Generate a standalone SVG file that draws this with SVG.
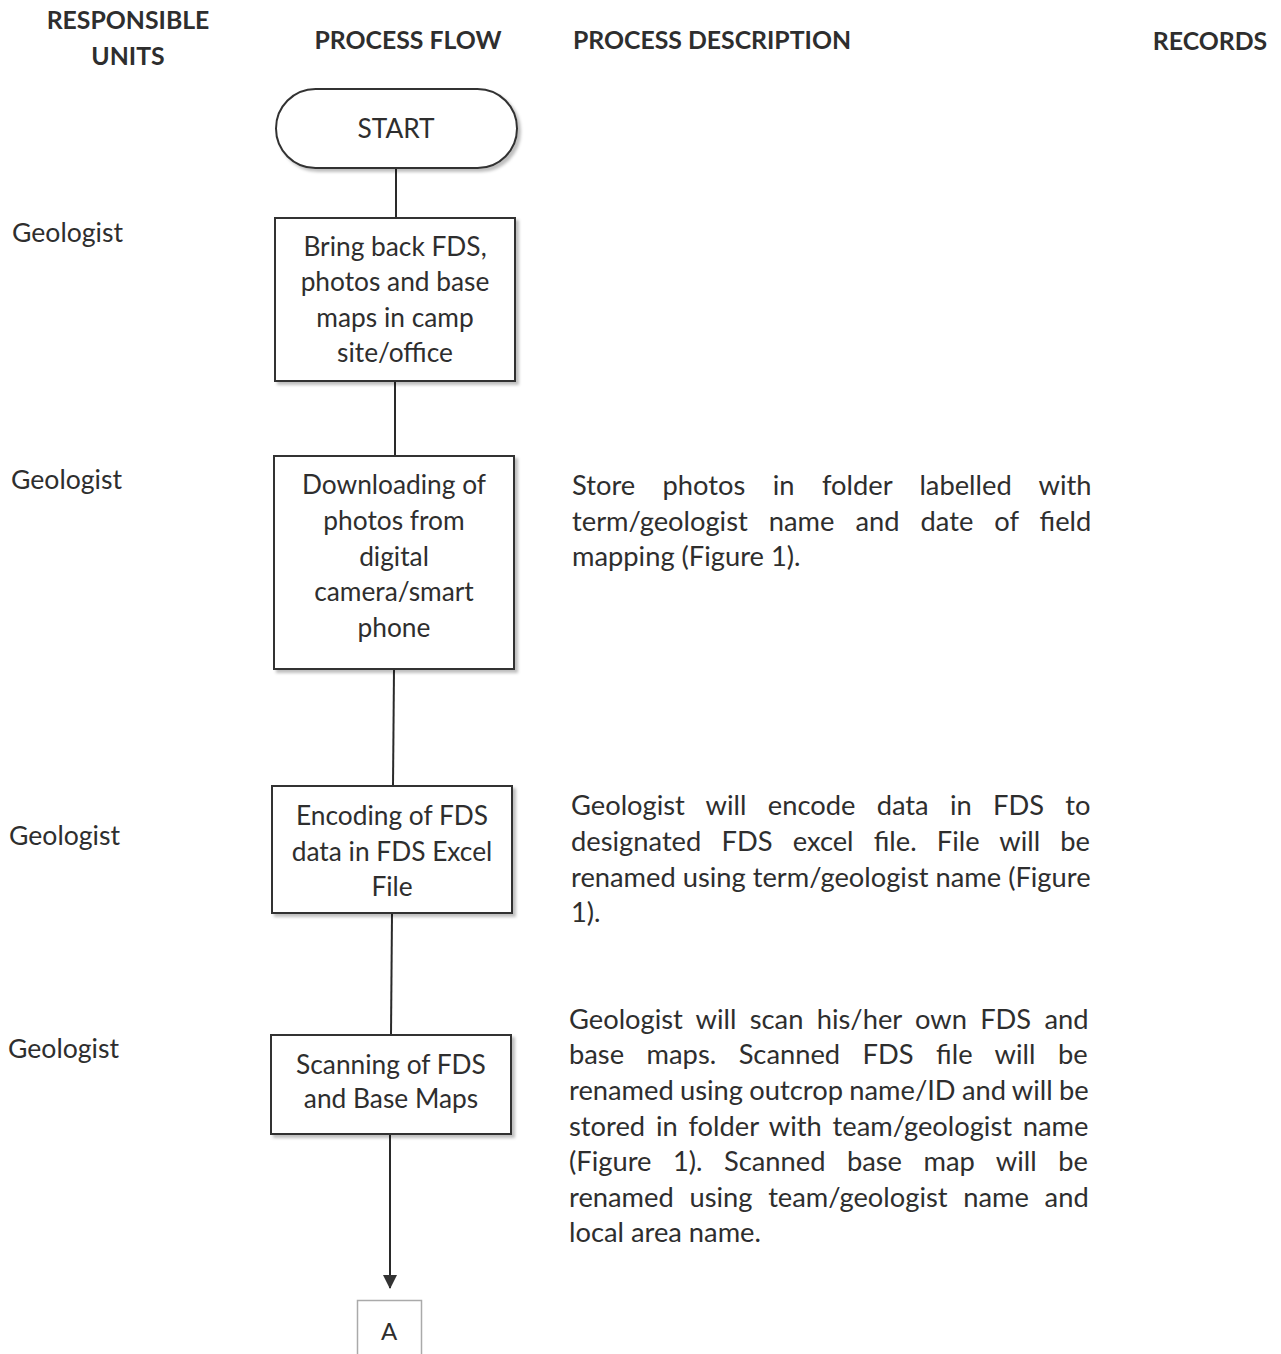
<svg xmlns="http://www.w3.org/2000/svg" width="1281" height="1354" viewBox="0 0 1281 1354">
<defs>
<style>
text{font-family:Lato,"Liberation Sans",sans-serif;fill:#2e2e2e}
.h{font-weight:bold;font-size:24.8px;text-anchor:middle}
.u{font-size:26.6px}
.n{font-size:26.3px;text-anchor:middle}
.d{font-size:27.3px}
.box{fill:#fff;stroke:#333;stroke-width:2;filter:url(#sh)}
.ln{stroke:#2a2a2a;stroke-width:2;fill:none}
</style>
<filter id="sh" x="-10%" y="-10%" width="125%" height="125%">
<feDropShadow dx="3" dy="3" stdDeviation="1.5" flood-color="#000" flood-opacity="0.25"/>
</filter>
<marker id="arw" viewBox="0 0 14 14" refX="13" refY="7" markerWidth="14" markerHeight="14" markerUnits="userSpaceOnUse" orient="auto">
<path d="M0,0 L14,7 L0,14 z" fill="#333"/>
</marker>
</defs>
<rect width="1281" height="1354" fill="#fff"/>

<g id="headers">
<text class="h" x="128" y="29">RESPONSIBLE</text>
<text class="h" x="128" y="65">UNITS</text>
<text class="h" x="408" y="49">PROCESS FLOW</text>
<text class="h" x="712" y="49">PROCESS DESCRIPTION</text>
<text class="h" x="1210" y="50">RECORDS</text>
</g>

<g id="units">
<text class="u" x="12" y="242">Geologist</text>
<text class="u" x="11" y="489">Geologist</text>
<text class="u" x="9" y="845">Geologist</text>
<text class="u" x="8" y="1058">Geologist</text>
</g>

<g id="connectors">
<line class="ln" x1="396" y1="168" x2="396" y2="218"/>
<line class="ln" x1="395" y1="381" x2="395" y2="456"/>
<line class="ln" x1="394" y1="669" x2="393" y2="786"/>
<line class="ln" x1="392" y1="913" x2="391" y2="1035"/>
<line class="ln" x1="390" y1="1134" x2="390" y2="1288" marker-end="url(#arw)"/>
</g>

<g id="start">
<rect class="box" x="276" y="89" width="241" height="79" rx="39.5"/>
<text class="n" x="396" y="138">START</text>
</g>

<g id="bring-back">
<rect class="box" x="275" y="218" width="240" height="163"/>
<text class="n" x="395" y="256">Bring back FDS,</text>
<text class="n" x="395" y="291">photos and base</text>
<text class="n" x="395" y="327">maps in camp</text>
<text class="n" x="395" y="362">site/office</text>
</g>

<g id="downloading">
<rect class="box" x="274" y="456" width="240" height="213"/>
<text class="n" x="394" y="494">Downloading of</text>
<text class="n" x="394" y="530">photos from</text>
<text class="n" x="394" y="566">digital</text>
<text class="n" x="394" y="601">camera/smart</text>
<text class="n" x="394" y="637">phone</text>
</g>

<g id="encoding">
<rect class="box" x="272" y="786" width="240" height="127"/>
<text class="n" x="392" y="825">Encoding of FDS</text>
<text class="n" x="392" y="861">data in FDS Excel</text>
<text class="n" x="392" y="896">File</text>
</g>

<g id="scanning">
<rect class="box" x="271" y="1035" width="240" height="99"/>
<text class="n" x="391" y="1074">Scanning of FDS</text>
<text class="n" x="391" y="1108">and Base Maps</text>
</g>

<g id="connector-a">
<rect x="357.5" y="1300.5" width="64" height="60" fill="#fff" stroke="#aaa" stroke-width="1.5"/>
<text class="n" x="389" y="1340" style="font-size:24px">A</text>
</g>

<g id="desc-1">
<text class="d" x="572" y="495" word-spacing="20.4">Store photos in folder labelled with</text>
<text class="d" x="572" y="531" word-spacing="14">term/geologist name and date of field</text>
<text class="d" x="572" y="566">mapping (Figure 1).</text>
</g>

<g id="desc-2">
<text class="d" x="571" y="815" word-spacing="14.3">Geologist will encode data in FDS to</text>
<text class="d" x="571" y="851" word-spacing="13.2">designated FDS excel file. File will be</text>
<text class="d" x="571" y="887">renamed using term/geologist name (Figure</text>
<text class="d" x="571" y="922">1).</text>
</g>

<g id="desc-3">
<text class="d" x="569" y="1029" word-spacing="6.3">Geologist will scan his/her own FDS and</text>
<text class="d" x="569" y="1064" word-spacing="15.5">base maps. Scanned FDS file will be</text>
<text class="d" x="569" y="1100" word-spacing="-0.7">renamed using outcrop name/ID and will be</text>
<text class="d" x="569" y="1136" word-spacing="3.8">stored in folder with team/geologist name</text>
<text class="d" x="569" y="1171" word-spacing="14.5">(Figure 1). Scanned base map will be</text>
<text class="d" x="569" y="1207" word-spacing="8.7">renamed using team/geologist name and</text>
<text class="d" x="569" y="1242">local area name.</text>
</g>
</svg>
